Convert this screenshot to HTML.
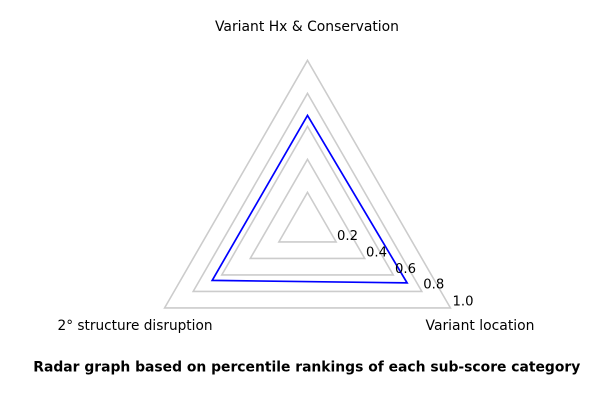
<!DOCTYPE html>
<html>
<head>
<meta charset="utf-8">
<style>
  html, body { margin: 0; padding: 0; background: #ffffff; }
  svg { display: block; }
  text { font-family: "DejaVu Sans", "Liberation Sans", sans-serif; fill: #000; }
</style>
</head>
<body>
<svg width="600" height="400" viewBox="0 0 600 400" xmlns="http://www.w3.org/2000/svg">
  <rect width="600" height="400" fill="#ffffff"/>
  <g fill="none" stroke="#cccccc" stroke-width="1.6" stroke-linejoin="miter">
    <polygon points="307.5,192.4 336.1,241.9 278.9,241.9"/>
    <polygon points="307.5,159.4 364.7,258.4 250.3,258.4"/>
    <polygon points="307.5,126.4 393.2,274.9 221.8,274.9"/>
    <polygon points="307.5,93.4 421.8,291.4 193.2,291.4"/>
    <polygon points="307.5,60.4 450.4,307.9 164.6,307.9"/>
  </g>
  <polygon points="307.5,115.4 407.1,282.9 212.2,280.4" fill="none" stroke="#0000ff" stroke-width="1.7"/>
  <g font-size="13.2">
    <text x="337" y="240">0.2</text>
    <text x="366" y="256.3">0.4</text>
    <text x="395" y="272.8">0.6</text>
    <text x="423.3" y="288.6">0.8</text>
    <text x="452.5" y="305.5">1.0</text>
  </g>
  <g font-size="13.9">
    <text x="215" y="31" textLength="184" lengthAdjust="spacingAndGlyphs">Variant Hx &amp; Conservation</text>
    <text x="57.5" y="330" textLength="155" lengthAdjust="spacingAndGlyphs">2° structure disruption</text>
    <text x="425.5" y="330" textLength="109" lengthAdjust="spacingAndGlyphs">Variant location</text>
    <text x="33.3" y="371.5" font-weight="bold" textLength="547" lengthAdjust="spacingAndGlyphs">Radar graph based on percentile rankings of each sub-score category</text>
  </g>
</svg>
</body>
</html>
